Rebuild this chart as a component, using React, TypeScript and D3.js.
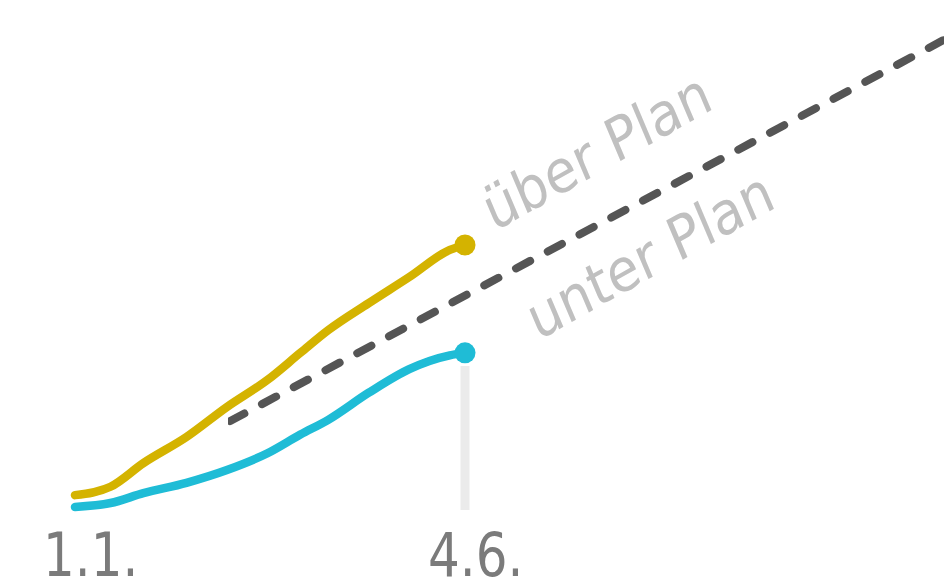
import React from "react";
import * as d3 from "d3";

const actualDates = ["2019-01-01","2019-01-15","2019-01-28","2019-02-14","2019-03-02","2019-03-18","2019-03-31","2019-04-11","2019-04-27","2019-05-13","2019-05-29","2019-06-04"];
const overPlan = [1.8,3.5,8.3,13.6,19.7,25.2,30.7,35.3,40.8,46.1,51.6,52.6];
const underPlan = [-0.6,0.2,2.2,4.3,6.9,10.3,14.1,17.1,22.6,27.4,30.2,30.7];
const planDates = ["2019-01-01","2019-12-31"];
const planValues = [0,100];
const tickDates = ["2019-01-01","2019-06-04"];
const tickLabels = ["1.1.","4.6."];
const zoneLabels = ["über Plan","unter Plan"];

const W = 944, H = 582;
const parse = d3.timeParse("%Y-%m-%d");

export default function App() {
  const x = d3.scaleTime().domain([parse("2019-01-01")!, parse("2019-06-04")!]).range([75, 465]);
  const y = d3.scaleLinear().domain([0, 100]).range([504, 11.6]);

  const line = d3.line<[Date, number]>().x(d => x(d[0])).y(d => y(d[1])).curve(d3.curveMonotoneX);
  const planLine = d3.line<[Date, number]>().x(d => x(d[0])).y(d => y(d[1]));

  const overData: [Date, number][] = actualDates.map((d, i) => [parse(d)!, overPlan[i]]);
  const underData: [Date, number][] = actualDates.map((d, i) => [parse(d)!, underPlan[i]]);
  const planData: [Date, number][] = planDates.map((d, i) => [parse(d)!, planValues[i]]);

  const lastDate = parse(actualDates[actualDates.length - 1])!;
  const lx = x(lastDate);
  const yellow = "#d4b300";
  const cyan = "#1fbcd6";

  return (
    <svg width={W} height={H} style={{ position: "absolute", left: 0, top: 0, background: "#fff" }}>
      <defs>
        <clipPath id="planClip">
          <rect x={228} y={0} width={W} height={H} />
        </clipPath>
      </defs>
      <line x1={lx} x2={lx} y1={366} y2={510} stroke="#ebebeb" strokeWidth={9} />
      <path d={planLine(planData)!} fill="none" stroke="#555" strokeWidth={8} clipPath="url(#planClip)"
        strokeDasharray="16 20" strokeLinecap="round" strokeDashoffset={4} />
      <path d={line(underData)!} fill="none" stroke={cyan} strokeWidth={8.5} strokeLinecap="round" />
      <path d={line(overData)!} fill="none" stroke={yellow} strokeWidth={8.5} strokeLinecap="round" />
      <circle cx={lx} cy={y(overPlan[overPlan.length - 1])} r={10.5} fill={yellow} />
      <circle cx={lx} cy={y(underPlan[underPlan.length - 1])} r={10.5} fill={cyan} />
      {tickDates.map((d, i) => (
        <g key={d} transform={`translate(${x(parse(d)!) - (i === 0 ? 32 : 37)},576) scale(1,1.22)`}>
          <text fontFamily="DejaVu Sans" fontSize={50} fill="#7b7b7b">{tickLabels[i]}</text>
        </g>
      ))}
      <g transform="translate(494,232) scale(1,1.15) rotate(-26)">
        <text fontFamily="DejaVu Sans" fontSize={52} fill="#c0c0c0">{zoneLabels[0]}</text>
      </g>
      <g transform="translate(538,341) scale(1,1.15) rotate(-26)">
        <text fontFamily="DejaVu Sans" fontSize={52} fill="#c0c0c0">{zoneLabels[1]}</text>
      </g>
    </svg>
  );
}
